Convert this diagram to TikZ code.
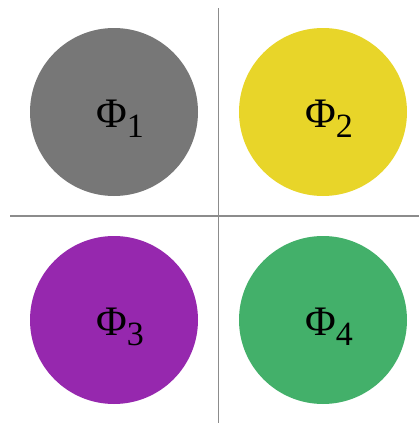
\documentclass[tikz,border=0pt]{standalone}
\usepackage{fontspec}
\setmainfont{Liberation Serif}
\usepackage{tikz}
\usetikzlibrary{positioning}
\definecolor{phgray}{RGB}{119,119,119}
\definecolor{phyellow}{RGB}{232,213,41}
\definecolor{phpurple}{RGB}{150,40,174}
\definecolor{phgreen}{RGB}{67,176,106}
\definecolor{axisgray}{RGB}{140,140,140}
\newcommand{\phlabel}[1]{\fontsize{42}{42}\selectfont Φ\raisebox{-10pt}{\fontsize{34}{34}\selectfont #1}}

\begin{document}
\begin{tikzpicture}[x=1pt, y=-1pt,
    phase/.style={circle, draw=none, minimum size=168pt, inner sep=0pt},
    lab/.style={anchor=base west, inner sep=0pt},
    axis/.style={draw=axisgray, line width=1.4pt}
]
\useasboundingbox (0,0) rectangle (419,423);
\node[phase, fill=phgray] (p1) at (114,112) {};
\node[phase, fill=phyellow] (p2) at (323,112) {};
\node[phase, fill=phpurple] (p3) at (114,320) {};
\node[phase, fill=phgreen] (p4) at (323,320) {};

\node[lab] (l1) at (96,127) {\phlabel{1}};
\node[lab] (l2) at (305,127) {\phlabel{2}};
\node[lab] (l3) at (96,335) {\phlabel{3}};
\node[lab] (l4) at (305,335) {\phlabel{4}};

\coordinate (vtop) at (218.5,8);
\coordinate (vbot) at (218.5,423);
\coordinate (hleft) at (10,216);
\coordinate (hright) at (419,216);
\draw[axis] (vtop) -- (vbot);
\draw[axis] (hleft) -- (hright);
\end{tikzpicture}
\end{document}
